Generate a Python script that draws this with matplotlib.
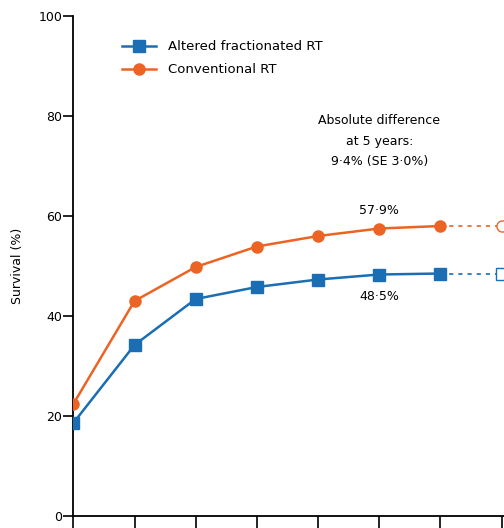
import matplotlib
matplotlib.use("Agg")
import matplotlib.pyplot as plt

plt.rcParams['font.family'] = ['DejaVu Sans Condensed', 'Liberation Sans Narrow', 'DejaVu Sans']

years = [0, 1, 2, 3, 4, 5, 6]
altered = [18.6, 34.2, 43.4, 45.8, 47.3, 48.3, 48.5]
conventional = [22.4, 43.0, 49.8, 53.9, 56.0, 57.5, 58.0]
ext_years = [6, 7]
altered_ext = [48.5, 48.5]
conventional_ext = [58.0, 58.0]
yticks = [0, 20, 40, 60, 80, 100]
xticks = [0, 1, 2, 3, 4, 5, 6, 7]

blue = '#1b6db4'
orange = '#ec6424'

fig = plt.figure(figsize=(5.04, 5.28), dpi=100)
ax = fig.add_axes([0.1455, 0.0227, 1.0 - 0.1455, 0.9697 - 0.0227])

ax.plot(years, altered, color=blue, lw=1.8, marker='s', ms=9, mec=blue, mfc=blue,
        label='Altered fractionated RT', zorder=3)
ax.plot(years, conventional, color=orange, lw=1.8, marker='o', ms=8, mec=orange, mfc=orange,
        label='Conventional RT', zorder=3)
ax.plot(ext_years, altered_ext, color=blue, lw=1.2, ls=(0, (2.5, 3)), zorder=2)
ax.plot(ext_years, conventional_ext, color=orange, lw=1.2, ls=(0, (2.5, 3)), zorder=2)
ax.plot([ext_years[-1]], [altered_ext[-1]], ls='none', marker='s', ms=9, mec=blue, mfc='white', mew=1.0)
ax.plot([ext_years[-1]], [conventional_ext[-1]], ls='none', marker='o', ms=8, mec=orange, mfc='white', mew=1.0)

ax.set_xlim(0, 7.04)
ax.set_ylim(0, 100)
ax.set_yticks(yticks)
ax.set_xticks(xticks)
ax.set_xticklabels([''] * len(xticks))
ax.tick_params(axis='y', direction='out', length=7, width=1.2, labelsize=9, pad=1)
ax.tick_params(axis='x', direction='out', length=9, width=1.2)
for s in ['top', 'right']:
    ax.spines[s].set_visible(False)
for s in ['left', 'bottom']:
    ax.spines[s].set_linewidth(1.3)

ax.set_ylabel('Survival (%)', fontsize=9, labelpad=10)

leg = ax.legend(loc='upper left', bbox_to_anchor=(0.085, 0.975), frameon=False, fontsize=9.5,
                handlelength=2.6, handletextpad=0.9, labelspacing=0.75)

ax.text(5.0, 75, 'Absolute difference\nat 5 years:\n9·4% (SE 3·0%)', ha='center', va='center',
        fontsize=9, linespacing=1.75)
ax.text(5.0, 61.2, '57·9%', ha='center', va='center', fontsize=9)
ax.text(5.0, 44.0, '48·5%', ha='center', va='center', fontsize=9)

fig.savefig('out.png', dpi=100)
